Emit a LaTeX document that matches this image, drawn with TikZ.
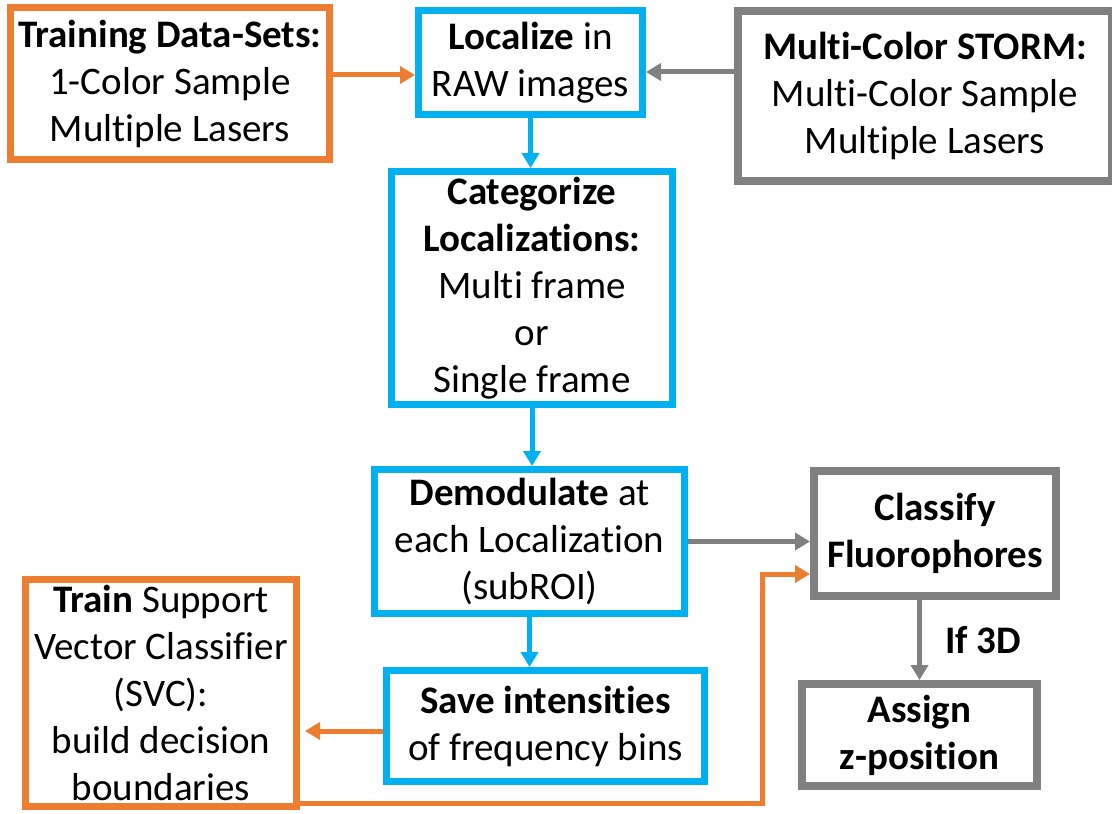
\documentclass[tikz,border=0pt]{standalone}
\usepackage{fontspec}
\setmainfont{Carlito}[Ligatures=NoCommon]
\usepackage{tikz}
\usetikzlibrary{positioning}
\usetikzlibrary{arrows.meta}
\definecolor{boxblue}{HTML}{00B0F0}
\definecolor{boxorange}{HTML}{ED7D31}
\definecolor{boxgray}{HTML}{808080}

\begin{document}
\begin{tikzpicture}[
	flowbox/.style={draw, align=center, inner sep=0pt, font=\fontsize{19.5}{23.5}\selectfont},
	bluebox/.style={flowbox, draw=boxblue, line width=3.5pt},
	orangebox/.style={flowbox, draw=boxorange, line width=3.5pt},
	graybox/.style={flowbox, draw=boxgray, line width=4pt},
	flow/.style={line width=2.5pt, -{Triangle[length=7.5pt, width=8.5pt]}},
	blueflow/.style={flow, boxblue},
	orangeflow/.style={flow, boxorange},
	grayflow/.style={flow, boxgray}]
	\useasboundingbox (0,0) rectangle (556pt,-406.5pt);

	\node [bluebox, minimum width=112pt, minimum height=52pt] (loc) at (265.25pt,-31.25pt) {\textbf{Localize} in\\RAW images};
	\node [orangebox, minimum width=159.5pt, minimum height=76pt, left=41pt of loc, yshift=-10.5pt] (tds) {\textbf{Training Data-Sets:}\\1-Color Sample\\Multiple Lasers};
	\node [graybox, minimum width=187pt, minimum height=85pt, right=44pt of loc, yshift=-16.75pt] (storm) {\textbf{Multi-Color STORM:}\\Multi-Color Sample\\Multiple Lasers};
	\node [bluebox, minimum width=140.5pt, minimum height=116.5pt, below=25pt of loc, xshift=0.75pt] (cat) {\textbf{Categorize}\\\textbf{Localizations:}\\Multi frame\\or\\Single frame};
	\node [bluebox, minimum width=155pt, minimum height=72pt, below=29pt of cat, xshift=-1.25pt] (demod) {\textbf{Demodulate} at\\each Localization\\(subROI)};
	\node [bluebox, minimum width=159pt, minimum height=55.5pt, below=25pt of demod, xshift=8pt] (save) {\textbf{Save intensities}\\of frequency bins};
	\node [orangebox, minimum width=135.5pt, minimum height=113.5pt, left=41.5pt of save, yshift=16.5pt] (train) {\textbf{Train} Support\\Vector Classifier\\(SVC):\\build decision\\boundaries};
	\node [graybox, minimum width=121pt, minimum height=62.5pt, right=61pt of demod, yshift=4pt] (classify) {\textbf{Classify}\\\textbf{Fluorophores}};
	\node [graybox, minimum width=117.5pt, minimum height=51pt, below=40pt of classify, xshift=-7.75pt] (assign) {\textbf{Assign}\\\textbf{z-position}};

	\coordinate (tdsout) at ([yshift=4.25pt]tds.east);
	\coordinate (stormout) at ([yshift=12pt]storm.west);
	\coordinate (saveout) at ([yshift=-2.5pt]save.west);
	\coordinate (trainout) at ([yshift=3.5pt]train.south east);
	\coordinate (classin) at ([yshift=-20.25pt]classify.west);
	\coordinate (ifdown) at (assign.north |- classify.south);

	\draw[orangeflow] (tdsout) -- (tdsout -| loc.west);
	\draw[grayflow] (stormout) -- (stormout -| loc.east);
	\draw[blueflow] (loc.south) -- (loc.south |- cat.north);
	\draw[blueflow] (cat.south) -- (cat.south |- demod.north);
	\draw[blueflow] (demod.south) -- (demod.south |- save.north);
	\draw[grayflow] (demod.east) -- (demod.east -| classify.west);
	\draw[orangeflow, shorten >=2.5pt] (saveout) -- (saveout -| train.east);
	\draw[orangeflow] (trainout) -- ++(231pt,0) |- (classin);
	\draw[grayflow] (ifdown) -- node[midway, right=11.5pt, inner sep=0pt, text=black, font=\fontsize{19.5}{23.5}\selectfont] {\textbf{If 3D}} (assign.north);
\end{tikzpicture}
\end{document}
